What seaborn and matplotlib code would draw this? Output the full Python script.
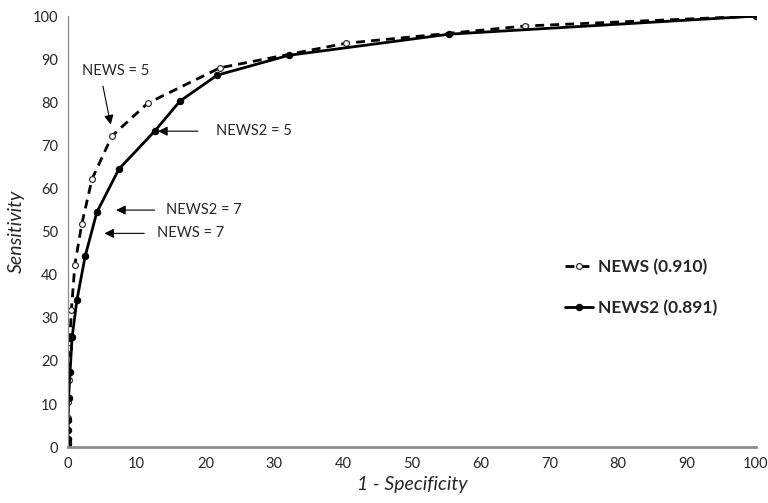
import numpy as np
import pandas as pd
import matplotlib
matplotlib.use("Agg")
import matplotlib.pyplot as plt
import seaborn as sns

sns.set_style("white")
plt.rcParams['font.family'] = ['Lato', 'DejaVu Sans']

# ROC points (1 - specificity, sensitivity), in %
news_x = [0, 0, 0, 0, 0.1, 0.2, 0.5, 1.0, 2.0, 3.5, 6.4, 11.6, 22.1, 40.4, 66.4, 100]
news_y = [0, 2, 6.7, 10.5, 15.5, 23.0, 31.8, 42.3, 51.7, 62.2, 72.2, 79.8, 88.0, 93.7, 97.7, 100]
news2_x = [0, 0, 0, 0, 0, 0.1, 0.3, 0.6, 1.3, 2.5, 4.2, 7.4, 12.6, 16.3, 21.7, 32.1, 55.4, 100]
news2_y = [0, 1, 2, 4, 6.3, 11.4, 17.4, 25.5, 34.1, 44.3, 54.5, 64.5, 73.3, 80.3, 86.3, 90.9, 95.8, 100]
labels = ["NEWS (0.910)", "NEWS2 (0.891)"]
ticks = list(range(0, 101, 10))

fig = plt.figure(figsize=(7.68, 5.03), dpi=100)
ax = fig.add_axes([0.0885, 0.111, 0.8955, 0.857])

sns.lineplot(x=news_x, y=news_y, ax=ax, sort=False, estimator=None, color="black",
             linestyle=(0, (3.2, 2.2)), linewidth=2, marker="o", markersize=4.2,
             markerfacecolor="white", markeredgecolor="#333333", markeredgewidth=0.9,
             label=labels[0])
sns.lineplot(x=news2_x, y=news2_y, ax=ax, sort=False, estimator=None, color="black",
             linewidth=2, marker="o", markersize=4.6, markerfacecolor="black",
             markeredgecolor="black", label=labels[1])

ax.set_xlim(0, 100)
ax.set_ylim(0, 100)
ax.set_xticks(ticks)
ax.set_yticks(ticks)
ax.tick_params(length=0, labelsize=10.5, pad=7)
for s in ["top", "right"]:
    ax.spines[s].set_visible(False)
ax.spines["left"].set_color("#8c8c8c")
ax.spines["left"].set_linewidth(0.9)
ax.spines["bottom"].set_color("#8c8c8c")
ax.spines["bottom"].set_linewidth(2)
ax.set_xlabel("1 - Specificity", fontsize=14, fontstyle="italic", labelpad=4)
ax.set_ylabel("Sensitivity", fontsize=14, fontstyle="italic", labelpad=6)

arrow = dict(arrowstyle="-|>", color="black", lw=0.8, mutation_scale=14)
ax.annotate("NEWS = 5", xy=(6.3, 74.2), xytext=(2.0, 87.2), fontsize=10.5,
            va="center", ha="left")
ax.annotate("", xy=(6.3, 74.2), xytext=(5.0, 84.4), arrowprops=arrow)
ax.annotate("NEWS2 = 5", xy=(12.6, 73.3), xytext=(21.5, 73.3), fontsize=10.5,
            va="center", ha="left")
ax.annotate("", xy=(12.7, 73.3), xytext=(19.3, 73.3), arrowprops=arrow)
ax.annotate("NEWS2 = 7", xy=(6.6, 55.0), xytext=(14.2, 55.0), fontsize=10.5,
            va="center", ha="left")
ax.annotate("", xy=(6.6, 55.0), xytext=(13.0, 55.0), arrowprops=arrow)
ax.annotate("NEWS = 7", xy=(4.9, 49.6), xytext=(12.9, 49.6), fontsize=10.5,
            va="center", ha="left")
ax.annotate("", xy=(4.9, 49.6), xytext=(11.5, 49.6), arrowprops=arrow)

ax.legend(loc="center left", bbox_to_anchor=(0.70, 0.37), frameon=False,
          prop={"weight": "bold", "size": 12.5}, labelspacing=1.45,
          handlelength=1.6, handletextpad=0.3)

fig.savefig("out.png", dpi=100)
